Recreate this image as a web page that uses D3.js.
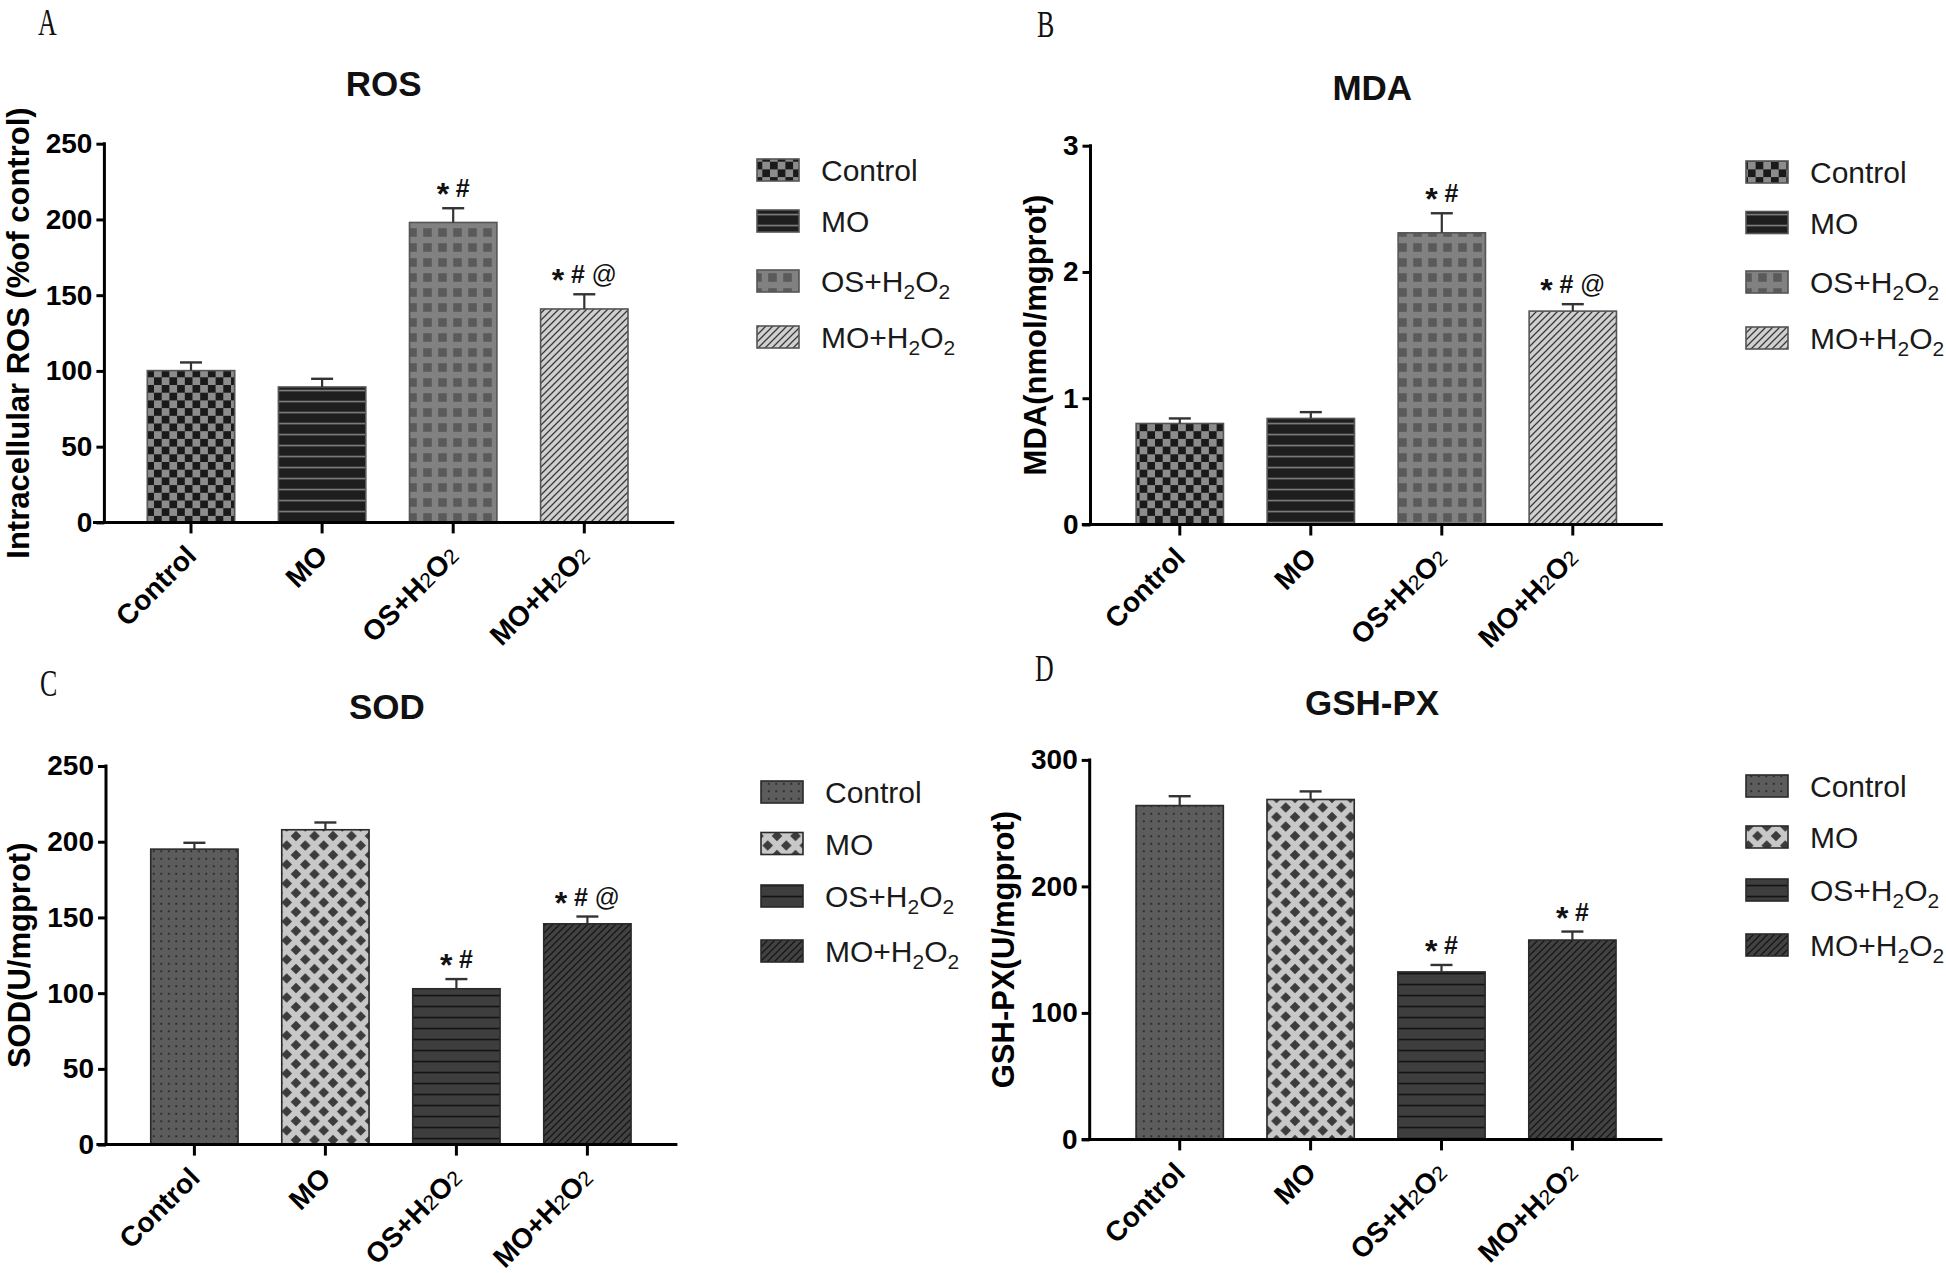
<!DOCTYPE html>
<html><head><meta charset="utf-8">
<script src="https://cdn.jsdelivr.net/npm/d3@7"></script>
<style>body{margin:0;background:#fff;} svg{display:block;}</style>
</head><body>
<svg id="chart" width="1946" height="1273"></svg>
<script>
// ---------- data ----------
const categories = ["Control", "MO", "OS+H2O2", "MO+H2O2"];

const rosMean = [100.2, 89.4, 198.0, 140.9];
const rosSem  = [5.4, 5.4, 9.4, 9.7];
const rosMarks = ["", "", "* #", "* # @"];
const rosTicks = [0, 50, 100, 150, 200, 250];

const mdaMean = [0.80, 0.84, 2.31, 1.69];
const mdaSem  = [0.04, 0.05, 0.155, 0.055];
const mdaMarks = ["", "", "* #", "* # @"];
const mdaTicks = [0, 1, 2, 3];

const sodMean = [195.1, 207.9, 102.9, 145.8];
const sodSem  = [4.2, 4.8, 6.4, 4.8];
const sodMarks = ["", "", "* #", "* # @"];
const sodTicks = [0, 50, 100, 150, 200, 250];

const gshMean = [263.9, 268.7, 132.4, 157.6];
const gshSem  = [7.4, 6.4, 5.5, 6.7];
const gshMarks = ["", "", "* #", "* #"];
const gshTicks = [0, 100, 200, 300];

// ---------- layout ----------
const panels = [
  {letter:"A", title:"ROS", ylabel:"Intracellular ROS (%of control)", mean:rosMean, sem:rosSem, marks:rosMarks, ticks:rosTicks,
   fills:["pA0","pA1","pA2","pA3"], stroke:"#555",
   L:{axisX:104.4, y0:522.4, yTop:143.7, c0:191, step:131.1, titleY:96, letterX:38, letterY:35, legX:757, legY:170, legRows:[0,51,111,167]}},
  {letter:"B", title:"MDA", ylabel:"MDA(nmol/mgprot)", mean:mdaMean, sem:mdaSem, marks:mdaMarks, ticks:mdaTicks,
   fills:["pA0","pA1","pA2","pA3"], stroke:"#555",
   L:{axisX:1090.5, y0:524.5, yTop:145.7, c0:1179.8, step:131.0, titleY:100, letterX:1037, letterY:37, legX:1746, legY:172, legRows:[0,50.5,110,166]}},
  {letter:"C", title:"SOD", ylabel:"SOD(U/mgprot)", mean:sodMean, sem:sodSem, marks:sodMarks, ticks:sodTicks,
   fills:["pC0","pC1","pC2","pC3"], stroke:"#2a2a2a",
   L:{axisX:106, y0:1144.6, yTop:766, c0:194.4, step:131.0, titleY:719, letterX:40, letterY:696, legX:761, legY:792, legRows:[0,51.5,104,159]}},
  {letter:"D", title:"GSH-PX", ylabel:"GSH-PX(U/mgprot)", mean:gshMean, sem:gshSem, marks:gshMarks, ticks:gshTicks,
   fills:["pC0","pC1","pC2","pC3"], stroke:"#2a2a2a",
   L:{axisX:1089.7, y0:1139.4, yTop:759.9, c0:1179.7, step:130.9, titleY:715, letterX:1035, letterY:681, legX:1746, legY:786, legRows:[0,51,104,159]}}
];

const FONT = "'Liberation Sans', Arial, Helvetica, sans-serif";
const svg = d3.select("#chart");
const defs = svg.append("defs");

// ---------- fill patterns ----------
function pat(id, w, h, bg) {
  const p = defs.append("pattern").attr("id", id).attr("patternUnits", "userSpaceOnUse")
    .attr("width", w).attr("height", h);
  p.append("rect").attr("width", w).attr("height", h).attr("fill", bg);
  return p;
}
{ const p = pat("pA0", 15.4, 15.4, "#1a1a1a");
  p.append("rect").attr("x",0).attr("y",0).attr("width",7.7).attr("height",7.7).attr("fill","#8c8c8c");
  p.append("rect").attr("x",7.7).attr("y",7.7).attr("width",7.7).attr("height",7.7).attr("fill","#8c8c8c"); }
{ const p = pat("pA1", 10, 11, "#1e1e1e");
  p.append("rect").attr("x",0).attr("y",4.7).attr("width",10).attr("height",1.7).attr("fill","#7a7a7a"); }
{ const p = pat("pA2", 15, 15, "#818181");
  p.append("rect").attr("x",3.2).attr("y",3.2).attr("width",8.6).attr("height",8.6).attr("fill","#5a5a5a"); }
{ const p = pat("pA3", 7, 7, "#d0d0d0");
  p.append("path").attr("d","M-1,8 L8,-1 M-1,1 L1,-1 M6,8 L8,6").attr("stroke","#3a3a3a").attr("stroke-width",1.3); }
{ const p = pat("pC0", 7.5, 7.5, "#5c5c5c");
  p.append("rect").attr("x",3).attr("y",3).attr("width",1.6).attr("height",1.6).attr("fill","#1a1a1a"); }
{ const p = pat("pC1", 18.5, 19, "#c8c8c8");
  const dia = (cx, cy) => `M${cx-5.3},${cy} L${cx},${cy-5.3} L${cx+5.3},${cy} L${cx},${cy+5.3} Z`;
  p.append("path").attr("d", [dia(0,0),dia(18.5,0),dia(0,19),dia(18.5,19),dia(9.25,9.5)].join(" ")).attr("fill","#3c3c3c"); }
{ const p = pat("pC2", 10, 11, "#3e3e3e");
  p.append("rect").attr("x",0).attr("y",4.7).attr("width",10).attr("height",1.7).attr("fill","#141414"); }
{ const p = pat("pC3", 7, 7, "#424242");
  p.append("path").attr("d","M-1,8 L8,-1 M-1,1 L1,-1 M6,8 L8,6").attr("stroke","#161616").attr("stroke-width",1.3); }

// chemistry label: digits become small (sub) parts
function chem(textSel, label, subSize, subWeight, subDy) {
  const parts = label.split(/(\d)/).filter(s => s.length);
  let shifted = false;
  parts.forEach(s => {
    const isSub = /\d/.test(s);
    const t = textSel.append("tspan").text(s);
    if (isSub) {
      t.attr("font-size", subSize).attr("font-weight", subWeight);
      if (subDy) { t.attr("dy", subDy); shifted = true; }
    } else if (shifted) {
      t.attr("dy", -subDy); shifted = false;
    }
  });
}

panels.forEach(P => {
  const L = P.L;
  const g = svg.append("g");
  const n = categories.length;
  const x = d3.scaleBand().domain(categories)
    .range([L.c0 - L.step / 2, L.c0 + (n - 0.5) * L.step])
    .paddingInner(1/3).paddingOuter(1/6);
  const yMax = P.ticks[P.ticks.length - 1];
  const y = d3.scaleLinear().domain([0, yMax]).range([L.y0, L.yTop]);
  const cx = c => x(c) + x.bandwidth() / 2;

  // panel letter
  g.append("text").attr("transform", `translate(${L.letterX},${L.letterY}) scale(0.7,1)`)
    .attr("font-family", "'Liberation Serif', 'DejaVu Serif', serif").attr("font-size", 37)
    .attr("fill", "#111").text(P.letter);

  // title
  const axStart = cx(categories[0]) - 98, axEnd = cx(categories[n-1]) + 90;
  g.append("text").attr("x", (axStart + axEnd) / 2).attr("y", L.titleY)
    .attr("text-anchor", "middle").attr("font-family", FONT).attr("font-weight", "bold")
    .attr("font-size", 35).attr("fill", "#111").text(P.title);

  // bars
  g.selectAll("rect.bar").data(categories).join("rect").attr("class", "bar")
    .attr("x", c => x(c)).attr("width", x.bandwidth())
    .attr("y", (c, i) => y(P.mean[i])).attr("height", (c, i) => L.y0 - y(P.mean[i]))
    .attr("fill", (c, i) => `url(#${P.fills[i]})`)
    .attr("stroke", P.stroke).attr("stroke-width", 1.6);

  // error bars (upper only) + significance marks
  categories.forEach((c, i) => {
    const top = y(P.mean[i] + P.sem[i]);
    g.append("line").attr("x1", cx(c)).attr("x2", cx(c)).attr("y1", y(P.mean[i])).attr("y2", top)
      .attr("stroke", "#333").attr("stroke-width", 2.2);
    g.append("line").attr("x1", cx(c) - 11).attr("x2", cx(c) + 11).attr("y1", top).attr("y2", top)
      .attr("stroke", "#333").attr("stroke-width", 2.4);
    if (P.marks[i]) {
      const t = g.append("text").attr("x", cx(c)).attr("y", top - 11).attr("text-anchor", "middle")
        .attr("font-family", FONT).attr("font-size", 25).attr("fill", "#111");
      P.marks[i].split(" ").forEach((m, k) => {
        if (k) t.append("tspan").attr("font-size", 24).text("\u00a0");
        const s = t.append("tspan").text(m);
        if (m === "*") s.attr("font-size", 32).attr("font-weight", "bold").attr("dy", 8);
        else if (m === "#") s.attr("font-weight", "bold").attr("dy", k === 1 ? -8 : 0);
        else s.attr("font-weight", "normal");
      });
    }
  });

  // y axis
  const ya = g.append("g").attr("transform", `translate(${L.axisX},0)`)
    .call(d3.axisLeft(y).tickValues(P.ticks).tickSize(8).tickSizeOuter(0).tickPadding(4).tickFormat(d3.format("d")));
  ya.select(".domain").remove();
  ya.selectAll(".tick line").attr("stroke", "#000").attr("stroke-width", 3);
  ya.selectAll(".tick text").attr("font-family", FONT).attr("font-weight", "bold")
    .attr("font-size", 28).attr("fill", "#000");
  g.append("line").attr("x1", L.axisX).attr("x2", L.axisX).attr("y1", L.y0).attr("y2", L.yTop - 1.5)
    .attr("stroke", "#000").attr("stroke-width", 3);
  let maxW = 0;
  ya.selectAll(".tick text").each(function() { maxW = Math.max(maxW, this.getBBox().width); });

  // y label
  g.append("text").attr("transform", `translate(${L.axisX - 12 - maxW - 17},${(L.y0 + L.yTop) / 2}) rotate(-90)`)
    .attr("text-anchor", "middle").attr("font-family", FONT).attr("font-weight", "bold")
    .attr("font-size", 31).attr("fill", "#000").text(P.ylabel);

  // x axis
  const xa = g.append("g").attr("transform", `translate(0,${L.y0})`)
    .call(d3.axisBottom(x).tickSize(11).tickSizeOuter(0).tickFormat(""));
  xa.select(".domain").remove();
  xa.selectAll(".tick line").attr("stroke", "#000").attr("stroke-width", 3);
  g.append("line").attr("x1", axStart).attr("x2", axEnd).attr("y1", L.y0).attr("y2", L.y0)
    .attr("stroke", "#000").attr("stroke-width", 3);
  categories.forEach(c => {
    const t = g.append("text").attr("transform", `translate(${cx(c) + 7},${L.y0 + 35}) rotate(-45)`)
      .attr("text-anchor", "end").attr("font-family", FONT).attr("font-weight", "bold")
      .attr("font-size", 28).attr("fill", "#000");
    chem(t, c, 21, "normal", 0);
  });

  // legend
  categories.forEach((c, i) => {
    const yc = L.legY + L.legRows[i];
    g.append("rect").attr("x", L.legX).attr("y", yc - 11).attr("width", 42).attr("height", 22)
      .attr("fill", `url(#${P.fills[i]})`).attr("stroke", P.stroke).attr("stroke-width", 1.6);
    const t = g.append("text").attr("x", L.legX + 64).attr("y", yc + 11)
      .attr("font-family", FONT).attr("font-size", 30).attr("fill", "#1a1a1a");
    chem(t, c, 21, "normal", 7);
  });
});
</script>
</body></html>
